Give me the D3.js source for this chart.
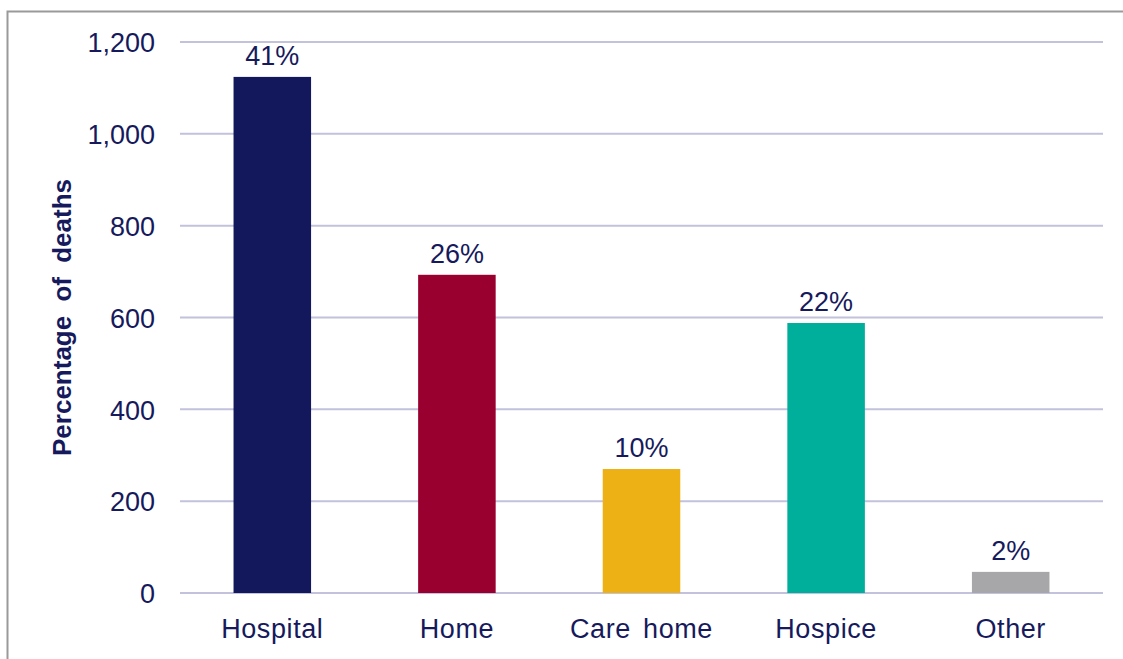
<!DOCTYPE html>
<html>
<head>
<meta charset="utf-8">
<script src="https://cdn.jsdelivr.net/npm/d3@7"></script>
<style>
  html, body { margin: 0; padding: 0; background: #ffffff; }
  svg { display: block; }
  text { font-family: "Liberation Sans", Arial, sans-serif; }
</style>
</head>
<body>
<svg id="chart" width="1123" height="659"></svg>
<script>
// Place of death: counts per setting, with share of all deaths
const categories = ["Hospital", "Home", "Care home", "Hospice", "Other"];
const deaths = [1124, 693, 270, 588, 46];
const shares = ["41%", "26%", "10%", "22%", "2%"];
const barColors = ["#13185C", "#99002F", "#EEB115", "#00AE9C", "#A7A7A9"];
const yTicks = [0, 200, 400, 600, 800, 1000, 1200];

const textColor = "#161A5C";
const gridColor = "#C2C2DC";

const svg = d3.select("#chart");

// outer frame (runs off the right and bottom edge)
svg.append("rect")
  .attr("x", 7.5).attr("y", 11.5)
  .attr("width", 1140).attr("height", 680)
  .attr("fill", "none")
  .attr("stroke", "#9A9A9A")
  .attr("stroke-width", 2);

const plot = { left: 180, right: 1103, top: 42, bottom: 593 };

const x = d3.scaleBand()
  .domain(categories)
  .range([plot.left, plot.right])
  .paddingInner(0.58)
  .paddingOuter(0.29);

const y = d3.scaleLinear()
  .domain([0, 1200])
  .range([plot.bottom, plot.top]);

// horizontal gridlines
svg.append("g")
  .selectAll("line")
  .data(yTicks)
  .join("line")
  .attr("x1", plot.left).attr("x2", plot.right)
  .attr("y1", d => y(d)).attr("y2", d => y(d))
  .attr("stroke", gridColor)
  .attr("stroke-width", 2);

// y axis labels
const yAxis = d3.axisLeft(y)
  .tickValues(yTicks)
  .tickFormat(d3.format(","))
  .tickSize(0)
  .tickPadding(25);

const gy = svg.append("g")
  .attr("transform", `translate(${plot.left},0)`)
  .call(yAxis);
gy.select(".domain").remove();
gy.selectAll("text")
  .attr("fill", textColor)
  .style("font-size", "27px")
  .attr("dy", "0.36em");

// bars
svg.append("g")
  .selectAll("rect")
  .data(categories)
  .join("rect")
  .attr("x", d => x(d))
  .attr("width", x.bandwidth())
  .attr("y", (d, i) => y(deaths[i]))
  .attr("height", (d, i) => y(0) - y(deaths[i]))
  .attr("fill", (d, i) => barColors[i]);

// share labels above bars
svg.append("g")
  .selectAll("text")
  .data(categories)
  .join("text")
  .attr("x", d => x(d) + x.bandwidth() / 2)
  .attr("y", (d, i) => y(deaths[i]) - 12)
  .attr("text-anchor", "middle")
  .attr("fill", textColor)
  .style("font-size", "27px")
  .text((d, i) => shares[i]);

// x axis labels
const xAxis = d3.axisBottom(x).tickSize(0);
const gx = svg.append("g")
  .attr("transform", `translate(0,${plot.bottom})`)
  .call(xAxis);
gx.select(".domain").remove();
gx.selectAll("text")
  .attr("fill", textColor)
  .style("font-size", "27px")
  .style("letter-spacing", "0.6px")
  .style("word-spacing", "4px")
  .attr("dy", null)
  .attr("y", 45);

// y axis title
svg.append("text")
  .attr("transform", `translate(71,${(plot.top + plot.bottom) / 2}) rotate(-90)`)
  .attr("text-anchor", "middle")
  .attr("fill", textColor)
  .style("font-size", "26px")
  .style("font-weight", "bold")
  .style("word-spacing", "7px")
  .text("Percentage of deaths");
</script>
</body>
</html>
